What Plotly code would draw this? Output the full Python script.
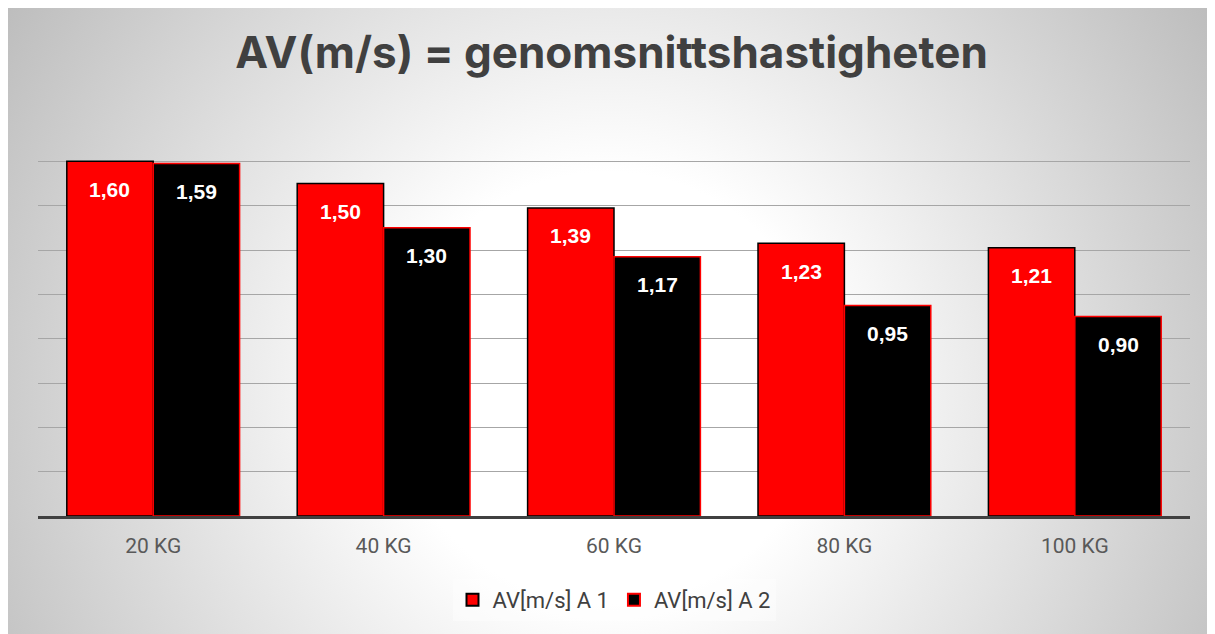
import base64
import plotly.graph_objects as go

categories = ["20 KG", "40 KG", "60 KG", "80 KG", "100 KG"]
series1_name = "AV[m/s] A 1"
series2_name = "AV[m/s] A 2"
series1 = [1.60, 1.50, 1.39, 1.23, 1.21]
series2 = [1.59, 1.30, 1.17, 0.95, 0.90]
title_text = "AV(m/s) = genomsnittshastigheten"

# page body adds an 8px offset; the figure is sized to fit the window
W, H = 1207, 626
ML, MR, MT, MB = 30, 25, 109, 118
PW = W - ML - MR
PH = H - MT - MB


def fmt(v):
    return f"{v:.2f}".replace(".", ",")


svg = f"""<svg xmlns='http://www.w3.org/2000/svg' width='{W}' height='{H}' viewBox='0 0 {W} {H}' preserveAspectRatio='none'>
<defs><radialGradient id='g' gradientUnits='userSpaceOnUse' cx='600' cy='380' r='720' fx='600' fy='380'>
<stop offset='0' stop-color='#ffffff'/><stop offset='0.3' stop-color='#ffffff'/><stop offset='1' stop-color='#bcbcbc'/>
</radialGradient></defs>
<rect x='0' y='0' width='{W}' height='{H}' fill='url(#g)'/>
</svg>"""
src = "data:image/svg+xml;base64," + base64.b64encode(svg.encode()).decode()

fig = go.Figure()
fig.add_trace(go.Bar(
    x=categories, y=series1, name=series1_name,
    marker=dict(color="#ff0000", line=dict(color="#000000", width=1.5)),
))
fig.add_trace(go.Bar(
    x=categories, y=series2, name=series2_name,
    marker=dict(color="#000000", line=dict(color="#ff0000", width=1.5)),
))

bargap = 0.25
cat_px = PW / len(categories)
half = cat_px * (1 - bargap) / 4

annotations = []
for series, shift in ((series1, -half), (series2, half)):
    for c, v in zip(categories, series):
        annotations.append(dict(
            x=c, y=v, xref="x", yref="y", text=fmt(v), showarrow=False,
            xshift=shift, yshift=-28, yanchor="middle", xanchor="center",
            font=dict(family="Liberation Sans, Arial", size=21, color="#ffffff", weight="bold"),
        ))

fig.update_layout(
    width=W, height=H,
    margin=dict(l=ML, r=MR, t=MT, b=MB, pad=0),
    paper_bgcolor="rgba(0,0,0,0)", plot_bgcolor="rgba(0,0,0,0)",
    barmode="group", bargap=bargap, bargroupgap=0,
    title=dict(text=title_text, x=0.5, xanchor="center", y=1 - 45 / H, yanchor="middle",
               font=dict(family="Inter", size=44, color="#404040", weight="bold")),
    xaxis=dict(showgrid=False, showline=True, linecolor="#404040", linewidth=3,
               ticks="", tickfont=dict(family="Roboto", size=21, color="#595959"),
               ticklabelstandoff=9),
    yaxis=dict(range=[0, 1.8], dtick=0.2, showticklabels=False, showgrid=True,
               gridcolor="#a6a6a6", gridwidth=1.2, zeroline=False, showline=False),
    legend=dict(orientation="h", x=0.5, xanchor="center", y=(508 - 592) / PH, yanchor="middle",
                bgcolor="rgba(255,255,255,0.4)", font=dict(family="Roboto", size=22, color="#404040"),
                itemsizing="constant", itemwidth=30, tracegroupgap=0),
    showlegend=True,
    annotations=annotations,
    images=[dict(source=src, xref="paper", yref="paper", x=-ML / PW, y=1 + MT / PH,
                 sizex=W / PW, sizey=H / PH, xanchor="left", yanchor="top",
                 sizing="stretch", layer="below")],
)

fig.write_html("out.html")
